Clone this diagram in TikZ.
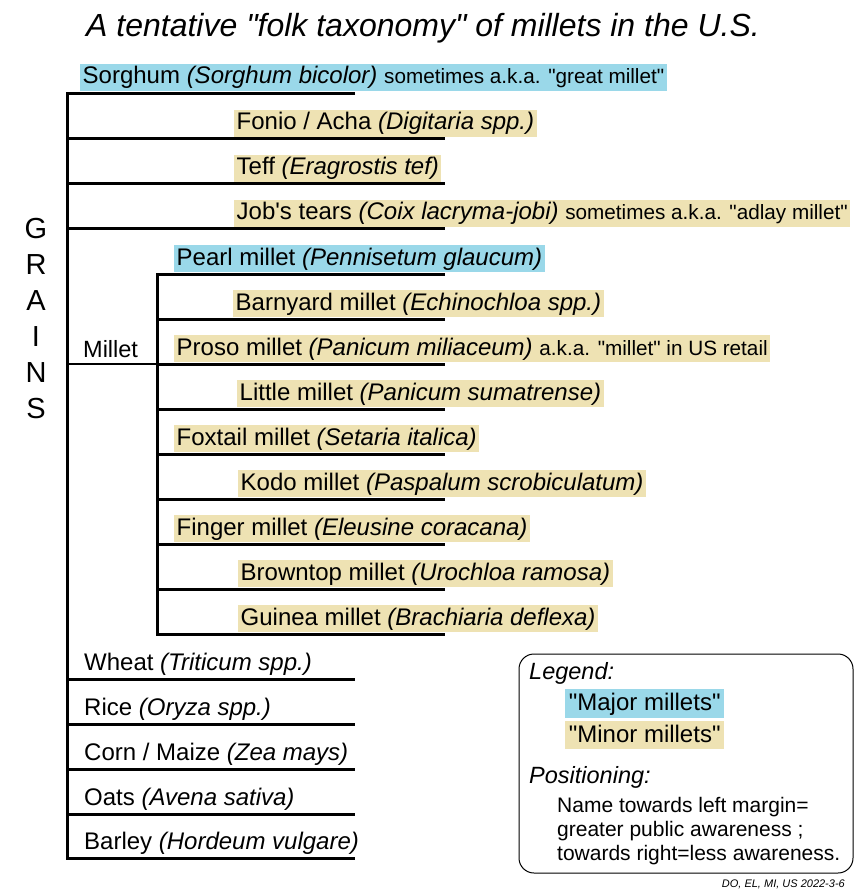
\documentclass[tikz,border=0pt]{standalone}
\usepackage{fontspec}
\newfontfamily\arial{Liberation Sans}
\definecolor{majorc}{HTML}{9AD8E9}
\definecolor{minorc}{HTML}{EEE2B3}
\newcommand{\fsz}[1]{\fontsize{#1}{#1}\selectfont}
\tikzset{
  lbl/.style={anchor=base west, inner xsep=2.5pt, inner ysep=0pt, text height=20pt, text depth=7pt, font=\arial\fsz{24}},
  major/.style={lbl, fill=majorc},
  minor/.style={lbl, fill=minorc},
  plain/.style={lbl},
  br/.style={line width=3pt},
  thin br/.style={line width=2pt}
}
\newcommand{\sm}[1]{{\fsz{20.7}#1}}
\begin{document}
\begin{tikzpicture}[x=1pt,y=-1pt]
\useasboundingbox (0,0) rectangle (866,893);
% title
\node[anchor=base west, inner sep=0pt, font=\arial\itshape\fsz{32}] (title) at (86,37) {A tentative "folk taxonomy" of millets in the U.S.};
% GRAINS
\foreach \ch/\yy [count=\i] in {G/238,R/274,A/310,I/346,N/382,S/418}
  \node[anchor=base, inner sep=0pt, font=\arial\fsz{29}] (gr\i) at (36,\yy) {\ch};
% coordinates of branch ends
\coordinate (top) at (67,94);
\coordinate (bot) at (67,858);
\coordinate (sorR) at (355,94);
\coordinate (barR) at (355,858);
\coordinate (mtop) at (157,274);
\coordinate (mbot) at (157,634);
\coordinate (mmid) at (157,364);
\coordinate (mleft) at (67,364);
\coordinate (pearlR) at (445,274);
\coordinate (guinR) at (445,634);
% trunk
\draw[br] (sorR) -- (top) -- (bot) -- (barR);
\foreach \yy/\nm in {139/fon,184/tef,229/job}{
  \coordinate (\nm L) at (67,\yy);
  \coordinate (\nm R) at (445,\yy);
  \draw[br] (\nm L) -- (\nm R);
}
\foreach \yy/\nm in {679/whe,724/ric,769/cor,814/oat}{
  \coordinate (\nm L) at (67,\yy);
  \coordinate (\nm R) at (355,\yy);
  \draw[br] (\nm L) -- (\nm R);
}
% millet subtree
\draw[thin br] (mleft) -- (mmid);
\draw[br] (pearlR) -- (mtop) -- (mbot) -- (guinR);
\foreach \yy/\nm in {319/bar,364/pro,409/lit,454/fox,499/kod,544/fin,589/bro}{
  \coordinate (\nm L) at (157,\yy);
  \coordinate (\nm R) at (445,\yy);
  \draw[br] (\nm L) -- (\nm R);
}
% labels
\node[major] (sorghum) at (80,84) {Sorghum \textit{(Sorghum bicolor)} \sm{sometimes a.k.a. "great millet"}};
\node[minor] (fonio) at (234,130) {Fonio / Acha \textit{(Digitaria spp.)}};
\node[minor] (teff) at (234,175) {Teff \textit{(Eragrostis tef)}};
\node[minor] (jobs) at (234,220) {Job's tears \textit{(Coix lacryma-jobi)} \sm{sometimes a.k.a. "adlay millet"}};
\node[major] (pearl) at (174,265) {Pearl millet \textit{(Pennisetum glaucum)}};
\node[minor] (barnyard) at (233,310) {Barnyard millet \textit{(Echinochloa spp.)}};
\node[minor] (proso) at (174,355) {Proso millet \textit{(Panicum miliaceum)} \sm{a.k.a. "millet" in US retail}};
\node[minor] (little) at (237,400) {Little millet \textit{(Panicum sumatrense)}};
\node[minor] (foxtail) at (174,445) {Foxtail millet \textit{(Setaria italica)}};
\node[minor] (kodo) at (238,490) {Kodo millet \textit{(Paspalum scrobiculatum)}};
\node[minor] (finger) at (174,535) {Finger millet \textit{(Eleusine coracana)}};
\node[minor] (browntop) at (238,580) {Browntop millet \textit{(Urochloa ramosa)}};
\node[minor] (guinea) at (238,625) {Guinea millet \textit{(Brachiaria deflexa)}};
\node[anchor=base west, inner sep=0pt, font=\arial\fsz{23.5}] (millet) at (83,357) {Millet};
\node[plain] (wheat) at (81.5,670) {Wheat \textit{(Triticum spp.)}};
\node[plain] (rice) at (81.5,715) {Rice \textit{(Oryza spp.)}};
\node[plain] (corn) at (81.5,760) {Corn / Maize \textit{(Zea mays)}};
\node[plain] (oats) at (81.5,805) {Oats \textit{(Avena sativa)}};
\node[plain] (barley) at (81.5,849) {Barley \textit{(Hordeum vulgare)}};
% legend
\draw[line width=1pt, rounded corners=15pt] (519,654) rectangle (853,873);
\node[anchor=base west, inner sep=0pt, font=\arial\itshape\fsz{23.5}] (leg) at (529,679) {Legend:};
\node[major, minimum width=159pt, text height=21pt, text depth=8pt] (lmaj) at (565,710) {"Major millets"};
\node[minor, minimum width=159pt, text height=21pt, text depth=7pt] (lmin) at (565,742) {"Minor millets"};
\node[anchor=base west, inner sep=0pt, font=\arial\itshape\fsz{23.5}] (pos) at (529,783) {Positioning:};
\node[anchor=base west, inner sep=0pt, font=\arial\fsz{21}] (pos1) at (557,812) {Name towards left margin=};
\node[anchor=base west, inner sep=0pt, font=\arial\fsz{21}] (pos2) at (557,836) {greater public awareness ;};
\node[anchor=base west, inner sep=0pt, font=\arial\fsz{21}] (pos3) at (557,860) {towards right=less awareness.};
\node[anchor=base east, inner sep=0pt, font=\arial\itshape\fsz{11}] (credit) at (845,887) {DO, EL, MI, US 2022-3-6};
\end{tikzpicture}
\end{document}
